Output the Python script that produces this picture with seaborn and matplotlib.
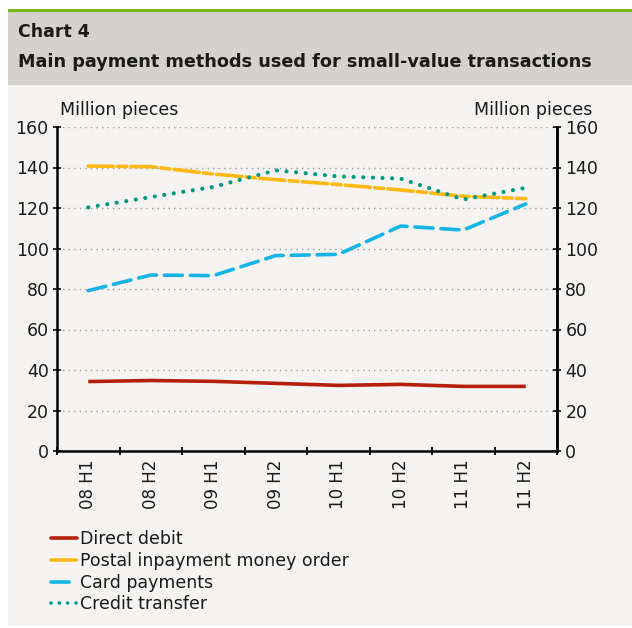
import matplotlib
matplotlib.use("Agg")
import matplotlib.pyplot as plt
from matplotlib.lines import Line2D
from matplotlib.patches import Rectangle
import seaborn as sns
import pandas as pd
import numpy as np

periods = ["08 H1", "08 H2", "09 H1", "09 H2", "10 H1", "10 H2", "11 H1", "11 H2"]
direct_debit = [34.3, 34.8, 34.4, 33.4, 32.4, 32.9, 31.9, 31.9]
postal = [140.7, 140.4, 136.8, 134.0, 131.6, 128.9, 125.8, 124.6]
card = [79.2, 86.9, 86.6, 96.5, 97.1, 111.1, 109.1, 122.0]
credit = [120.3, 125.4, 130.4, 138.6, 135.6, 134.5, 124.2, 130.0]

series_names = ["Direct debit", "Postal inpayment money order", "Card payments", "Credit transfer"]
series_vals = [direct_debit, postal, card, credit]
colors = ["#b51f0c", "#fdb913", "#17b5e6", "#009a7c"]
dashes = ["", (7, 1.2, 2.5, 1.2), (5, 2.2), (0.01, 2.3)]

sns.set_theme(style="white")
plt.rcParams['font.family'] = ['DejaVu Sans']

rows = []
for name, vals in zip(series_names, series_vals):
    for i, v in enumerate(vals):
        rows.append({"pos": i, "period": periods[i], "series": name, "value": v})
df = pd.DataFrame(rows)

fig = plt.figure(figsize=(6.32, 6.28), dpi=100)
fig.patch.set_facecolor("white")
fig.add_artist(Rectangle((8/632, 1 - 626/628), 624/632, (626-85)/628, transform=fig.transFigure,
                         facecolor="#f5f4f2", edgecolor="none", zorder=-3))
fig.add_artist(Rectangle((8/632, 1 - 85/628), 624/632, (85-12)/628, transform=fig.transFigure,
                         facecolor="#d5d1cc", edgecolor="none", zorder=-2))
fig.add_artist(Rectangle((8/632, 1 - 12/628), 624/632, 2.5/628, transform=fig.transFigure,
                         facecolor="#7ab51d", edgecolor="none", zorder=-1))

fig.text(18/632, 1 - 32/628, "Chart 4", fontsize=12.5, fontweight="bold", color="#1a1a1a", va="center")
fig.text(18/632, 1 - 62/628, "Main payment methods used for small-value transactions", fontsize=12.7,
         fontweight="bold", color="#1a1a1a", va="center")

ax = fig.add_axes([57/632, 1 - 451/628, 500/632, (451-127)/628])
ax.set_facecolor("none")

sns.lineplot(data=df, x="pos", y="value", hue="series", style="series",
             hue_order=series_names, style_order=series_names,
             palette=dict(zip(series_names, colors)),
             dashes=dict(zip(series_names, dashes)),
             linewidth=2.6, legend=False, ax=ax)
for ln in ax.get_lines():
    ln.set_dash_capstyle("round")
    ln.set_solid_capstyle("butt")
lines = ax.get_lines()
if len(lines) >= 4:
    lines[3].set_linewidth(3.0)

ax.set_xlim(-0.5, len(periods) - 0.5)
ax.set_ylim(0, 160)
ax.set_yticks(np.arange(0, 161, 20))
ax.set_xticks(range(len(periods)))
ax.set_xticklabels(periods, rotation=90, fontsize=12)
ax.set_xticks(np.arange(-0.5, len(periods), 1), minor=True)
ax.tick_params(axis="x", which="major", length=0, pad=6, colors="#1a1a1a", bottom=True)
ax.tick_params(axis="x", which="minor", length=6, direction="inout", width=1.3, color="black", bottom=True)
ax.tick_params(axis="y", which="major", length=6, direction="inout", width=1.3, labelsize=12.5,
               colors="#1a1a1a", pad=3, left=True)
ax.set_xlabel("")
ax.set_ylabel("")
ax.yaxis.grid(True, linestyle=(0, (1, 3)), color="#999999", linewidth=1)
ax.set_axisbelow(True)
ax.spines["top"].set_visible(False)
for s in ["left", "bottom", "right"]:
    ax.spines[s].set_color("black")
    ax.spines[s].set_linewidth(1.8)

ax2 = ax.twinx()
ax2.set_ylim(0, 160)
ax2.set_yticks(np.arange(0, 161, 20))
ax2.tick_params(axis="y", length=6, direction="inout", width=1.3, labelsize=12.5, colors="#1a1a1a",
                pad=3, right=True)
ax2.spines["top"].set_visible(False)
ax2.spines["left"].set_visible(False)
ax2.spines["bottom"].set_visible(False)
ax2.spines["right"].set_color("black")
ax2.spines["right"].set_linewidth(1.8)
ax2.grid(False)

fig.text(60/632, 1 - 110/628, "Million pieces", fontsize=12.5, color="#1a1a1a", va="center", ha="left")
fig.text(592/632, 1 - 110/628, "Million pieces", fontsize=12.5, color="#1a1a1a", va="center", ha="right")

handles = []
for name, c, d in zip(series_names, colors, dashes):
    if d == "":
        h = Line2D([], [], color=c, linewidth=2.6, linestyle="-")
    else:
        h = Line2D([], [], color=c, linewidth=2.6, linestyle=(0, d), dash_capstyle="round")
    handles.append(h)
leg = fig.legend(handles, series_names, loc="upper left", bbox_to_anchor=(44/632, 1 - 523/628),
                 frameon=False, fontsize=12.5, handlelength=1.5, handletextpad=0.2,
                 labelspacing=0.22, borderaxespad=0)
for t in leg.get_texts():
    t.set_color("#1a1a1a")

fig.savefig("out.png", dpi=100, facecolor=fig.get_facecolor())
